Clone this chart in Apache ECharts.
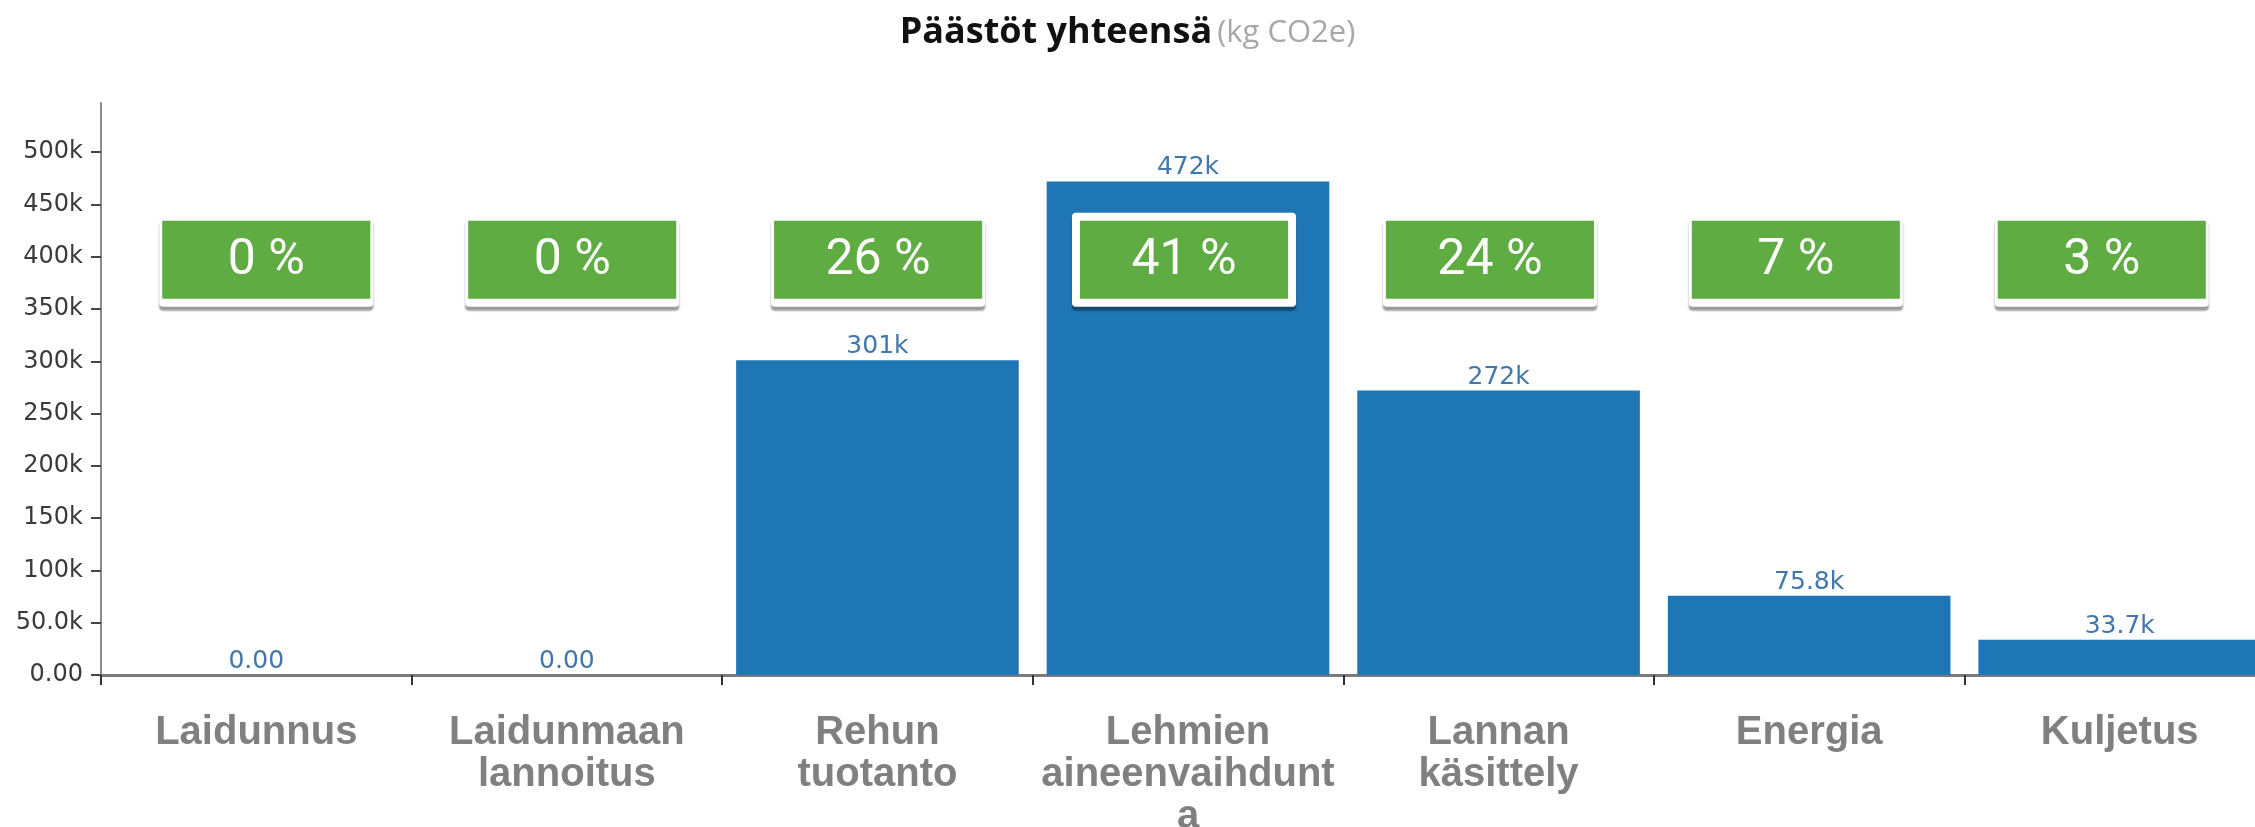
<!DOCTYPE html>
<html>
<head>
<meta charset="utf-8">
<script src="https://cdn.jsdelivr.net/npm/echarts@6/dist/echarts.min.js"></script>
<style>
html, body { margin: 0; padding: 0; background: #fff; }
#chart { width: 2255px; height: 827px; }
</style>
</head>
<body>
<div id="chart"></div>
<script>
// päästölähteet
var categories = ['Laidunnus', 'Laidunmaan\nlannoitus', 'Rehun\ntuotanto', 'Lehmien\naineenvaihdunt\na', 'Lannan\nkäsittely', 'Energia', 'Kuljetus'];
// kg CO2e
var emissions = [0, 0, 301000, 472000, 272000, 75800, 33700];
// osuus %
var shares = [0, 0, 26, 41, 24, 7, 3];
var yTickLabels = ['0.00', '50.0k', '100k', '150k', '200k', '250k', '300k', '350k', '400k', '450k', '500k'];

var boxLevel = 397000;
var maxShare = Math.max.apply(null, shares);

function fmtK(v) {
  if (v === 0) return '0.00';
  var k = v / 1000;
  return k >= 100 ? Math.round(k) + 'k' : k.toFixed(1) + 'k';
}

var chart = echarts.init(document.getElementById('chart'));
chart.setOption({
  animation: false,
  title: {
    left: 'center',
    top: 10,
    text: '{a|Päästöt yhteensä} {b|(kg CO2e)}',
    textStyle: {
      rich: {
        a: { fontFamily: 'Open Sans', fontWeight: 'bold', fontSize: 36, color: '#111' },
        b: { fontFamily: 'Open Sans', fontWeight: 'normal', fontSize: 31, color: '#a8a8a8' }
      }
    }
  },
  grid: { left: 101, right: -20, top: 103, bottom: 152, outerBoundsMode: 'none' },
  xAxis: {
    type: 'category',
    data: categories,
    axisLine: { lineStyle: { color: '#7a7a7a', width: 3 } },
    axisTick: { show: true, alignWithLabel: false, length: 10, lineStyle: { color: '#333', width: 2 } },
    axisLabel: {
      interval: 0,
      margin: 37,
      fontFamily: 'Liberation Sans',
      fontWeight: 'bold',
      fontSize: 40,
      lineHeight: 42,
      color: '#808080'
    }
  },
  yAxis: {
    type: 'value',
    min: 0,
    max: 547000,
    interval: 50000,
    splitLine: { show: false },
    axisLine: { show: true, lineStyle: { color: '#8c8c8c', width: 2 } },
    axisTick: { show: true, length: 10, lineStyle: { color: '#444', width: 2 } },
    axisLabel: {
      margin: 18,
      showMaxLabel: false,
      fontFamily: 'DejaVu Sans',
      fontSize: 24,
      color: '#3a3a3a',
      formatter: function (v) { return yTickLabels[v / 50000] || ''; }
    }
  },
  series: [
    {
      type: 'bar',
      data: emissions,
      barCategoryGap: '9%',
      itemStyle: { color: '#1f76b4' },
      label: {
        show: true,
        position: 'top',
        distance: 1,
        fontFamily: 'DejaVu Sans',
        fontSize: 25,
        color: '#4277ab',
        formatter: function (p) { return fmtK(p.value); }
      }
    },
    {
      type: 'custom',
      silent: true,
      z: 10,
      encode: { x: 0, y: 1 },
      data: shares.map(function (s, i) { return [i, boxLevel, s]; }),
      renderItem: function (params, api) {
        var i = api.value(0);
        var c = api.coord([i, api.value(1)]);
        var c0 = api.coord([0, api.value(1)]);
        // laatikot hieman tiheämmässä kuin kategoriat
        var cx = c0[0] + 10 + (c[0] - c0[0]) * 0.985;
        var w = api.size([1, 0])[0] * 0.67;
        var h = 78;
        var hi = api.value(2) === maxShare;
        var pad = hi ? 8 : 3;
        var padB = 8;
        var x = cx - w / 2, y = c[1] - h / 2;
        return {
          type: 'group',
          children: [
            {
              type: 'rect',
              shape: { x: x - pad, y: y - pad, width: w + 2 * pad, height: h + pad + padB, r: 4 },
              style: { fill: '#fff', shadowColor: 'rgba(0,0,0,0.4)', shadowOffsetY: 4, shadowBlur: 2 }
            },
            {
              type: 'rect',
              shape: { x: x, y: y, width: w, height: h },
              style: { fill: '#5eac42' }
            },
            {
              type: 'text',
              style: {
                text: api.value(2) + ' %',
                x: cx, y: c[1] + 2,
                align: 'center', verticalAlign: 'middle',
                fill: '#fff', fontFamily: 'Roboto', fontSize: 50
              }
            }
          ]
        };
      }
    }
  ]
});
</script>
</body>
</html>
